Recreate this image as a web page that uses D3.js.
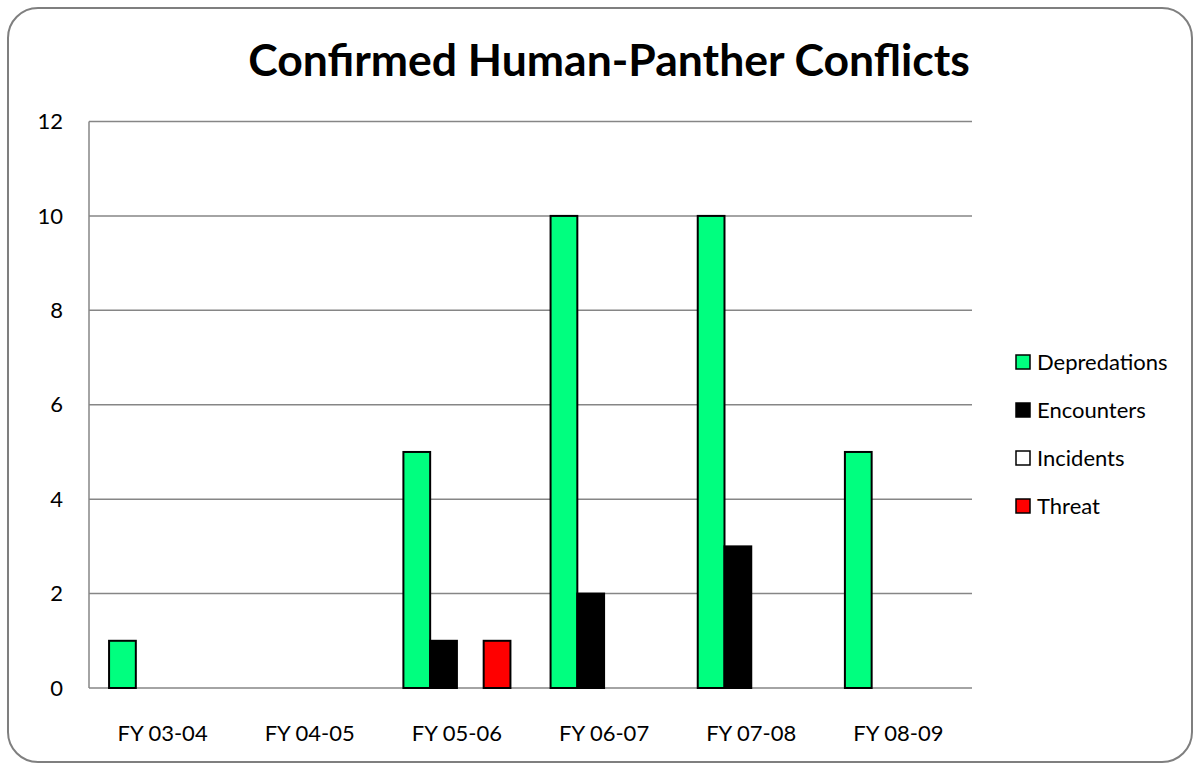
<!DOCTYPE html>
<html><head><meta charset="utf-8">
<script src="https://cdn.jsdelivr.net/npm/d3@7"></script>
<style>body{margin:0;background:#fff}svg{display:block}</style>
</head><body>
<svg id="c" width="1201" height="770"></svg>
<script>
const categories = ["FY 03-04","FY 04-05","FY 05-06","FY 06-07","FY 07-08","FY 08-09"];
const seriesNames = ["Depredations","Encounters","Incidents","Threat"];
const seriesColors = ["#00FF7F","#000000","#FFFFFF","#FF0000"];
const depredations = [1,0,5,10,10,5];
const encounters = [0,0,1,2,3,0];
const incidents = [0,0,0,0,0,0];
const threat = [0,0,1,0,0,0];
const yTicks = [0,2,4,6,8,10,12];
const title = "Confirmed Human-Panther Conflicts";

const seriesValues = [depredations, encounters, incidents, threat];
const font = "Lato, 'Open Sans', sans-serif";
const svg = d3.select("#c");

svg.append("rect").attr("x",8).attr("y",8).attr("width",1184).attr("height",754)
  .attr("rx",30).attr("ry",30).attr("fill","#fff").attr("stroke","#7f7f7f").attr("stroke-width",2);

const L=89, R=972, T=121.5, B=688;
const x = d3.scaleBand().domain(categories).range([L,R]).paddingInner(0).paddingOuter(0);
const y = d3.scaleLinear().domain([0,12]).range([B,T]);
const bw = x.bandwidth()/5.5;
const xs = d3.scaleBand().domain(seriesNames).range([bw*0.75, bw*4.75]);

svg.append("g").selectAll("line").data(yTicks).join("line")
  .attr("x1",L).attr("x2",R).attr("y1",d=>y(d)).attr("y2",d=>y(d))
  .attr("stroke","#868686").attr("stroke-width",1.5);
svg.append("line").attr("x1",L).attr("x2",L).attr("y1",T).attr("y2",B).attr("stroke","#868686").attr("stroke-width",1.5);

svg.append("g").selectAll("text").data(yTicks).join("text")
  .attr("x",63).attr("y",d=>y(d)).attr("dy","0.35em").attr("text-anchor","end")
  .attr("font-family",font).attr("font-size",22).attr("fill","#000").text(d=>d);

svg.append("g").selectAll("text").data(categories).join("text")
  .attr("x",d=>x(d)+x.bandwidth()/2).attr("y",733).attr("dy","0.35em").attr("text-anchor","middle")
  .attr("font-family",font).attr("font-size",22).attr("fill","#000").text(d=>d);

const bars = [];
seriesNames.forEach((s,si)=>categories.forEach((c,ci)=>{
  const v = seriesValues[si][ci];
  if (v>0) bars.push({s,c,v,color:seriesColors[si]});
}));
svg.append("g").selectAll("rect").data(bars).join("rect")
  .attr("x",d=>x(d.c)+xs(d.s)).attr("width",xs.bandwidth())
  .attr("y",d=>y(d.v)).attr("height",d=>B-y(d.v))
  .attr("fill",d=>d.color).attr("stroke","#000").attr("stroke-width",2);

svg.append("text").attr("x",609).attr("y",60).attr("dy","0.35em").attr("text-anchor","middle")
  .attr("font-family",font).attr("font-weight","bold").attr("font-size",44.5).attr("fill","#000").text(title);

const lg = svg.append("g").selectAll("g").data(seriesNames).join("g")
  .attr("transform",(d,i)=>`translate(1016,${362+i*48})`);
lg.append("rect").attr("x",0).attr("y",-7).attr("width",14).attr("height",14)
  .attr("fill",(d,i)=>seriesColors[i]).attr("stroke","#000").attr("stroke-width",1.5);
lg.append("text").attr("x",21).attr("y",0).attr("dy","0.35em")
  .attr("font-family",font).attr("font-size",22).attr("fill","#000").text(d=>d);
</script>
</body></html>
